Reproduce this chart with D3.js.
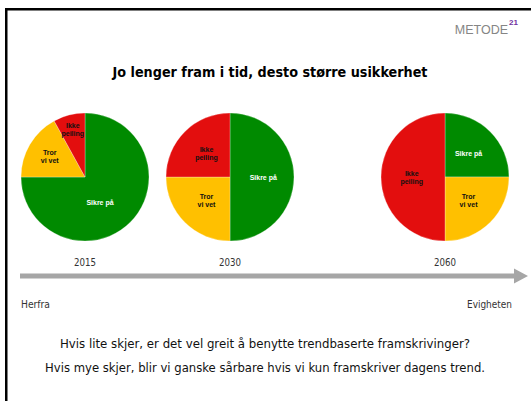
<!DOCTYPE html>
<html>
<head>
<meta charset="utf-8">
<script src="https://cdn.jsdelivr.net/npm/d3@7"></script>
<style>
  html, body { margin: 0; padding: 0; background: #fff; }
  svg { display: block; }
</style>
</head>
<body>
<script>
// Share of knowledge per horizon year (percent)
const years = ["2015", "2030", "2060"];
const yearValues = [2015, 2030, 2060];
const categories = ["Sikre på", "Tror vi vet", "Ikke peiling"];
const sikrePa = [75, 50, 25];
const trorViVet = [17, 25, 25];
const ikkePeiling = [8, 25, 50];
const labelLines = [["Sikre på"], ["Tror", "vi vet"], ["Ikke", "peiling"]];

const title = "Jo lenger fram i tid, desto større usikkerhet";
const startLabel = "Herfra";
const endLabel = "Evigheten";
const notes = [
  "Hvis lite skjer, er det vel greit å benytte trendbaserte framskrivinger?",
  "Hvis mye skjer, blir vi ganske sårbare hvis vi kun framskriver dagens trend."
];

const W = 531, H = 401;
const colors = d3.scaleOrdinal().domain(categories).range(["#008a00", "#ffc000", "#e30e0e"]);
const labelColors = d3.scaleOrdinal().domain(categories).range(["#ffffff", "#111111", "#111111"]);

const svg = d3.select("body").append("svg").attr("width", W).attr("height", H);
svg.append("rect").attr("width", W).attr("height", H).attr("fill", "#fff");

// frame lines (top and left)
svg.append("rect").attr("x", 5).attr("y", 8).attr("width", W - 5).attr("height", 2.5).attr("fill", "#000");
svg.append("rect").attr("x", 5).attr("y", 8).attr("width", 2.5).attr("height", H - 8).attr("fill", "#000");

// brand mark
svg.append("text").attr("x", 508).attr("y", 34).attr("text-anchor", "end")
  .attr("font-family", "Liberation Sans, Arial, sans-serif").attr("font-size", 12.5).attr("fill", "#858585")
  .text("METODE");
svg.append("text").attr("x", 509).attr("y", 25)
  .attr("font-family", "Liberation Sans, Arial, sans-serif").attr("font-size", 8).attr("font-weight", "bold")
  .attr("fill", "#7030a0").text("21");

function fit(sel, width) {
  sel.attr("textLength", width).attr("lengthAdjust", "spacingAndGlyphs");
}

// title
svg.append("text").attr("x", 270).attr("y", 77).attr("text-anchor", "middle")
  .attr("font-family", "DejaVu Sans, Verdana, sans-serif").attr("font-weight", "bold").attr("font-size", 14.5)
  .attr("fill", "#000").text(title).call(fit, 315);

// horizontal positions along the time line
const x = d3.scaleLinear().domain(yearValues).range([85, 230, 445]);
const cy = 177, r = 64;

const pie = d3.pie().sort(null).value(d => d.value);
const arc = d3.arc().innerRadius(0).outerRadius(r);

years.forEach((yr, i) => {
  const rows = categories.map((c, k) => ({
    cat: c, lines: labelLines[k],
    value: [sikrePa, trorViVet, ikkePeiling][k][i]
  }));
  const g = svg.append("g").attr("transform", `translate(${x(yearValues[i])},${cy})`);
  const arcs = pie(rows);
  g.selectAll("path").data(arcs).join("path")
    .attr("d", arc)
    .attr("fill", d => colors(d.data.cat))
    .attr("stroke", "rgba(255,255,255,0.35)").attr("stroke-width", 0.8);

  const total = d3.sum(rows, d => d.value);
  g.selectAll("text.lbl").data(arcs).join("text").attr("class", "lbl")
    .each(function (d) {
      const frac = d.data.value / total;
      // narrow slices push their label further out
      const lr = r * (frac < 0.1 ? 0.77 : frac < 0.2 ? 0.64 : frac > 0.6 ? 0.46 : 0.52);
      const a = (d.startAngle + d.endAngle) / 2 + (frac > 0.6 ? 0.25 : 0);
      const px = Math.sin(a) * lr, py = -Math.cos(a) * lr;
      const t = d3.select(this)
        .attr("text-anchor", "middle")
        .attr("font-family", "Liberation Sans, Arial, sans-serif")
        .attr("font-weight", "bold").attr("font-size", 7)
        .attr("fill", labelColors(d.data.cat));
      const n = d.data.lines.length;
      d.data.lines.forEach((ln, j) => {
        t.append("tspan").attr("x", px).attr("y", py + (j - (n - 1) / 2) * 8 + 2.5).text(ln);
      });
    });

  svg.append("text").attr("x", x(yearValues[i])).attr("y", 266).attr("text-anchor", "middle")
    .attr("font-family", "DejaVu Sans, Verdana, sans-serif").attr("font-size", 10).attr("fill", "#333")
    .text(yr).call(fit, 22);
});

// time arrow
const ay = 276;
svg.append("path")
  .attr("d", `M20,${ay - 2.5} L514,${ay - 2.5} L514,${ay - 7.5} L528,${ay} L514,${ay + 7.5} L514,${ay + 2.5} L20,${ay + 2.5} Z`)
  .attr("fill", "#a6a6a6");

svg.append("text").attr("x", 21).attr("y", 308)
  .attr("font-family", "DejaVu Sans, Verdana, sans-serif").attr("font-size", 10).attr("fill", "#333")
  .text(startLabel).call(fit, 29);
svg.append("text").attr("x", 512).attr("y", 308).attr("text-anchor", "end")
  .attr("font-family", "DejaVu Sans, Verdana, sans-serif").attr("font-size", 10).attr("fill", "#333")
  .text(endLabel).call(fit, 45);

// closing remarks
const noteWidths = [410, 440];
notes.forEach((n, i) => {
  svg.append("text").attr("x", 265).attr("y", 348 + i * 24).attr("text-anchor", "middle")
    .attr("font-family", "DejaVu Sans, Verdana, sans-serif").attr("font-size", 12).attr("fill", "#111")
    .text(n).call(fit, noteWidths[i]);
});
</script>
</body>
</html>
